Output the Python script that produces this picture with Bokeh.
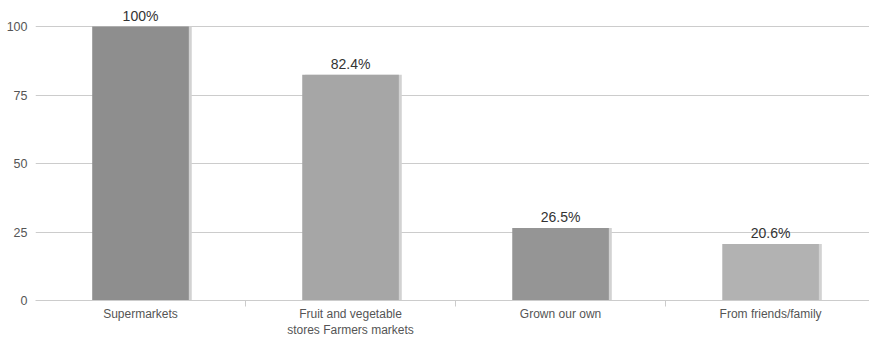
from bokeh.plotting import figure
from bokeh.models import ColumnDataSource, FixedTicker, Range1d
from bokeh.transform import dodge
from bokeh.embed import file_html
from bokeh.resources import INLINE
from bokeh.core.properties import value

categories = ["Supermarkets", "Fruit and vegetable\nstores Farmers markets", "Grown our own", "From friends/family"]
values = [100, 82.4, 26.5, 20.6]
labels = ["100%", "82.4%", "26.5%", "20.6%"]
colors = ["#8e8e8e", "#a6a6a6", "#959595", "#b2b2b2"]
y_ticks = [0, 25, 50, 75, 100]

xs = [i + 0.5 for i in range(len(categories))]
src = ColumnDataSource(dict(x=xs, top=values, label=labels, color=colors))

p = figure(width=869, height=340, output_backend="svg", toolbar_location=None,
           x_range=Range1d(0, 3.971), y_range=Range1d(0, 109.5),
           min_border_left=35, min_border_right=0, min_border_top=0, min_border_bottom=40)
p.outline_line_color = None
p.background_fill_color = "white"

# shadow
p.vbar(x=dodge("x", 0.014), top="top", bottom=0, width=0.46, source=src,
       fill_color="#d2d2d2", line_color=None)
p.vbar(x="x", top="top", bottom=0, width=0.46, source=src,
       fill_color="color", line_color=None)
p.text(x="x", y="top", text="label", source=src, text_align="center",
       text_baseline="bottom", y_offset=-3, text_font=value("Liberation Sans"),
       text_font_size="14px", text_color="#333333")

p.xaxis.ticker = FixedTicker(ticks=xs, minor_ticks=[1, 2, 3])
p.xaxis.major_label_overrides = {x: c for x, c in zip(xs, categories)}
p.xaxis.major_tick_line_color = None
p.xaxis.major_tick_in = 0
p.xaxis.major_tick_out = 0
p.xaxis.minor_tick_in = 0
p.xaxis.minor_tick_out = 6
p.xaxis.minor_tick_line_color = "#cccccc"
p.xaxis.axis_line_color = "#cccccc"
p.xaxis.major_label_text_font = "Liberation Sans"
p.xaxis.major_label_text_font_size = "12px"
p.xaxis.major_label_text_color = "#555555"
p.xaxis.major_label_standoff = 0

p.yaxis.ticker = FixedTicker(ticks=y_ticks)
p.yaxis.axis_line_color = None
p.yaxis.major_tick_line_color = None
p.yaxis.major_tick_in = 0
p.yaxis.major_tick_out = 0
p.yaxis.minor_tick_line_color = None
p.yaxis.major_label_text_font = "Liberation Sans"
p.yaxis.major_label_text_font_size = "12.5px"
p.yaxis.major_label_text_color = "#555555"
p.yaxis.major_label_standoff = 8

p.xgrid.grid_line_color = None
p.ygrid.ticker = FixedTicker(ticks=y_ticks)
p.ygrid.grid_line_color = "#cccccc"

open("out.html", "w").write(file_html(p, INLINE))
